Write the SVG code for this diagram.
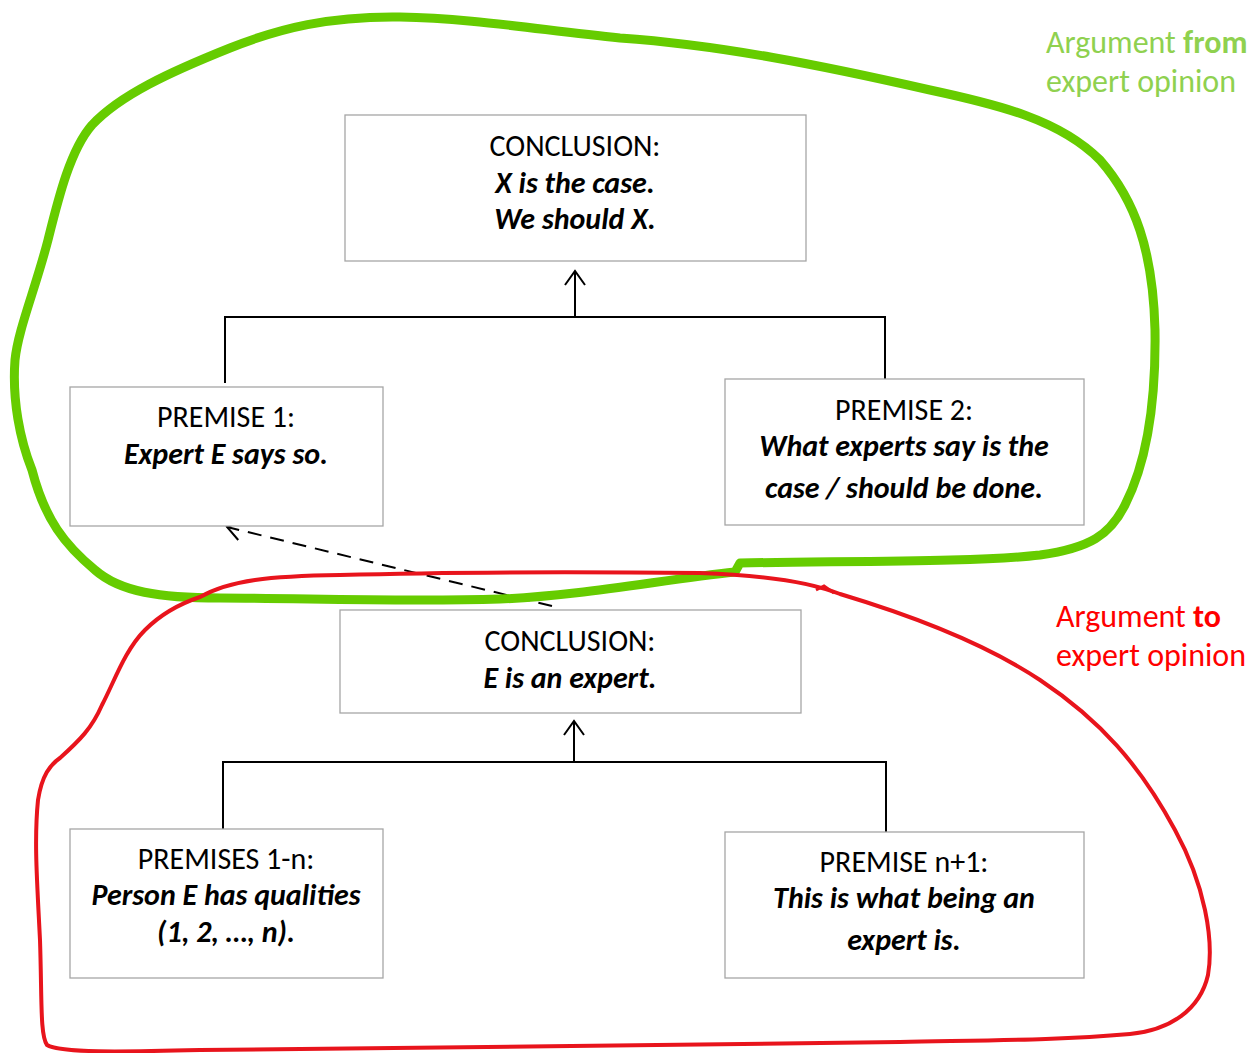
<svg xmlns="http://www.w3.org/2000/svg" width="1252" height="1053" viewBox="0 0 1252 1053">
<defs>
<style>
.box{fill:#fff;stroke:#a6a6a6;stroke-width:1.3}
.t{font-family:Carlito,Lato,"Liberation Sans",sans-serif;font-size:30px;fill:#000;text-anchor:middle}
.b{font-weight:bold;font-style:italic}
.ln{stroke:#000;stroke-width:2;fill:none}
.lbl{font-family:Carlito,Lato,"Liberation Sans",sans-serif;font-size:32px}
</style>
<marker id="open" viewBox="0 0 24 24" refX="22" refY="12" markerWidth="24" markerHeight="24" markerUnits="userSpaceOnUse" orient="auto">
<path d="M8,2 L22,12 L8,22" fill="none" stroke="#000" stroke-width="2"/>
</marker>
</defs>
<rect width="1252" height="1053" fill="#fff"/>

<g id="connectors">
<path class="ln" d="M225,383 V317 H885 V379"/>
<path class="ln" d="M575,317 V271" marker-end="url(#open)"/>
<path class="ln" d="M223,829 V762 H886 V832"/>
<path class="ln" d="M574,762 V721" marker-end="url(#open)"/>
<path class="ln" d="M552,606 L227,527" stroke-dasharray="14,9" marker-end="url(#open)"/>
</g>

<g id="conclusion-top">
<rect class="box" x="345" y="115" width="461" height="146"/>
<text class="t" x="575" y="156">CONCLUSION:</text>
<text class="t b" x="575" y="193">X is the case.</text>
<text class="t b" x="575" y="229">We should X.</text>
</g>
<g id="premise-1">
<rect class="box" x="70" y="387" width="313" height="139"/>
<text class="t" x="226" y="427">PREMISE 1:</text>
<text class="t b" x="226" y="464">Expert E says so.</text>
</g>
<g id="premise-2">
<rect class="box" x="725" y="379" width="359" height="146"/>
<text class="t" x="904" y="420">PREMISE 2:</text>
<text class="t b" x="904" y="456">What experts say is the</text>
<text class="t b" x="904" y="498">case / should be done.</text>
</g>
<g id="conclusion-bottom">
<rect class="box" x="340" y="610" width="461" height="103"/>
<text class="t" x="570" y="651">CONCLUSION:</text>
<text class="t b" x="570" y="688">E is an expert.</text>
</g>
<g id="premises-1-n">
<rect class="box" x="70" y="829" width="313" height="149"/>
<text class="t" x="226" y="869">PREMISES 1-n:</text>
<text class="t b" x="226" y="905">Person E has qualities</text>
<text class="t b" x="226" y="942">(1, 2, …, n).</text>
</g>
<g id="premise-n1">
<rect class="box" x="725" y="832" width="359" height="146"/>
<text class="t" x="904" y="872">PREMISE n+1:</text>
<text class="t b" x="904" y="908">This is what being an</text>
<text class="t b" x="904" y="950">expert is.</text>
</g>

<g id="green-loop">
<path fill="none" stroke="#66cc00" stroke-width="9" stroke-linecap="round" stroke-linejoin="round"
d="M740,563 C850,561 980,562 1040,555 C1090,548 1110,535 1125,505 C1148,460 1156,400 1155,330 C1153,250 1135,200 1100,160 C1060,120 1000,105 930,90 C820,65 720,45 620,38 C540,30 470,18 400,17 C330,16 280,28 230,48 C170,72 120,95 92,125 C70,150 58,200 48,240 C35,290 18,330 15,360 C12,400 20,440 32,470 C45,520 65,545 95,570 C120,592 160,598 220,598 C300,598 400,602 500,599 C580,596 660,580 735,572 L740,563"/>
</g>
<g id="red-loop">
<path fill="none" stroke="#e8141c" stroke-width="4" stroke-linecap="round" stroke-linejoin="round"
d="M200,597 C230,580 270,576 340,575 C450,572 600,572 700,573 C760,575 810,582 840,594 C900,612 980,640 1040,680 C1100,720 1140,765 1175,830 C1205,885 1214,940 1208,975 C1200,1010 1170,1030 1130,1034 C1060,1040 1000,1040 900,1042 C700,1045 400,1048 200,1050 C120,1052 60,1053 47,1045 C40,1035 42,1000 40,940 C37,880 34,840 38,800 C42,775 50,765 60,758 C80,740 92,728 102,705 C115,680 125,650 145,630 C165,610 185,602 200,597"/>
<path fill="none" stroke="#e8141c" stroke-width="3" d="M816,590 L824,586 L834,593"/>
</g>

<g id="labels">
<text class="lbl" x="1046" y="53" fill="#8fd14f">Argument <tspan font-weight="bold">from</tspan></text>
<text class="lbl" x="1046" y="92" fill="#8fd14f">expert opinion</text>
<text class="lbl" x="1056" y="627" fill="#ff0000">Argument <tspan font-weight="bold">to</tspan></text>
<text class="lbl" x="1056" y="666" fill="#ff0000">expert opinion</text>
</g>
</svg>
